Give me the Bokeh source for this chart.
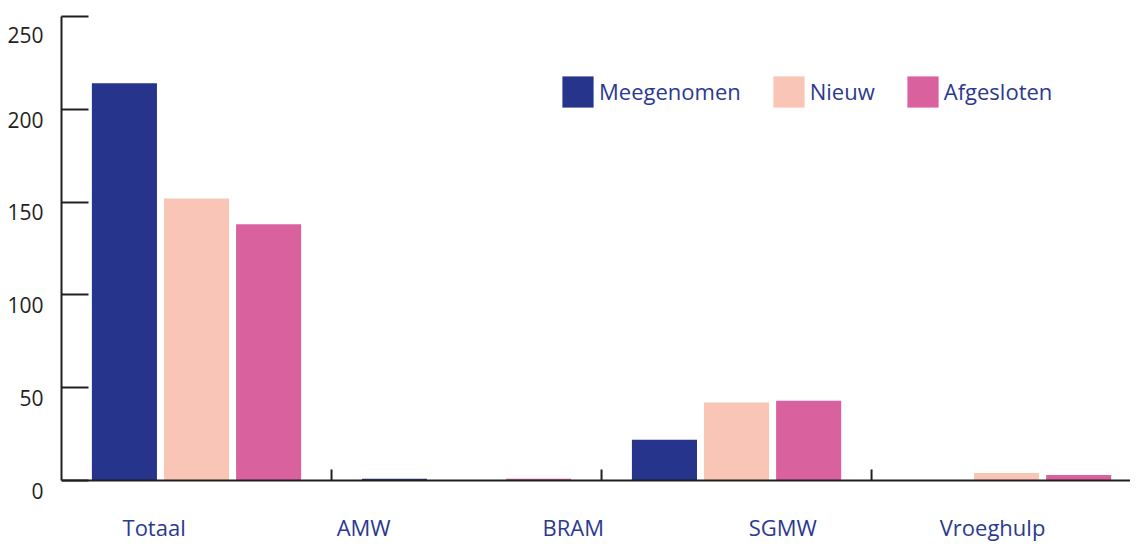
from bokeh.plotting import figure
from bokeh.models import Range1d, FixedTicker, Legend, LegendItem, ColumnDataSource, Span
from bokeh.core.properties import value
from bokeh.embed import file_html
from bokeh.resources import INLINE

# ---- data -------------------------------------------------------------
categories = ["Totaal", "AMW", "BRAM", "SGMW", "Vroeghulp"]   # axis labels
bar_groups = ["Totaal", "AMW", "SGMW", "Vroeghulp"]           # groups that carry bars
meegenomen = [214, 1, 22, 0]
nieuw = [152, 0, 42, 4]
afgesloten = [138, 1, 43, 3]
series_names = ["Meegenomen", "Nieuw", "Afgesloten"]
y_ticks = [0, 50, 100, 150, 200, 250]

# ---- style ------------------------------------------------------------
colors = ["#26358B", "#F8C5B7", "#D9629E"]
text_blue = "#2B3990"
axis_col = "#231F20"
font = "Open Sans"

W, H = 1130, 541
TOP, LEFT, BASE = 16, 61, 480           # frame top, frame left, pixel row of y = 0
px_per_unit = (BASE - TOP) / y_ticks[-1]
y_start = -(H - BASE) / px_per_unit     # frame reaches the bottom so labels sit inside it

p = figure(width=W, height=H, output_backend="svg", toolbar_location=None,
           x_range=Range1d(0, 3.959), y_range=Range1d(y_start, y_ticks[-1]),
           x_axis_location=None,
           min_border_left=LEFT, min_border_right=0, min_border_top=TOP,
           min_border_bottom=0)
p.outline_line_color = None
p.grid.grid_line_color = None
p.background_fill_color = "white"
p.border_fill_color = "white"

series = [meegenomen, nieuw, afgesloten]
offsets = [-0.267, 0.0, 0.267]
bar_w = 0.241
renderers = []
for name, vals, col, off in zip(series_names, series, colors, offsets):
    src = ColumnDataSource(dict(x=[i + 0.5 + off for i in range(len(bar_groups))],
                                top=vals, grp=bar_groups))
    r = p.vbar(x="x", top="top", bottom=0, width=bar_w, source=src,
               fill_color=col, line_color=None)
    renderers.append(r)

# category axis drawn by hand: base line, boundary ticks, labels
p.add_layout(Span(location=0, dimension="width", line_color=axis_col, line_width=2))
bounds = list(range(1, len(bar_groups)))
p.segment(x0=bounds, x1=bounds, y0=[0] * len(bounds), y1=[11 / px_per_unit] * len(bounds),
          line_color=axis_col, line_width=2)
label_pos = [0.343, 1.119, 1.895, 2.671, 3.448]
p.text(x=label_pos, y=[0] * len(categories), text=categories, y_offset=46,
       text_align="center", text_baseline="middle",
       text_font=value(font), text_font_size="22px", text_color=text_blue)

# y axis: labels set a little below their ticks (empty first line)
p.yaxis.ticker = FixedTicker(ticks=y_ticks)
p.yaxis.bounds = (0, y_ticks[-1])
p.yaxis.major_label_overrides = {v: "\n" + str(v) for v in y_ticks}
p.yaxis.major_label_text_line_height = 0.73
p.yaxis.minor_tick_line_color = None
p.yaxis.major_tick_in = 27
p.yaxis.major_tick_out = 0
p.yaxis.major_tick_line_width = 2
p.yaxis.major_tick_line_color = axis_col
p.yaxis.axis_line_width = 2
p.yaxis.axis_line_color = axis_col
p.yaxis.major_label_text_font = font
p.yaxis.major_label_text_font_size = "21px"
p.yaxis.major_label_text_color = axis_col
p.yaxis.major_label_standoff = 18

legend = Legend(items=[LegendItem(label=n, renderers=[r]) for n, r in zip(series_names, renderers)],
                orientation="horizontal", location=(497, 424),
                glyph_width=39, glyph_height=39, label_height=52,
                label_standoff=2, spacing=28,
                padding=0, margin=0, border_line_color=None, background_fill_alpha=0,
                label_text_font=font, label_text_font_size="22px",
                label_text_color=text_blue)
p.add_layout(legend, "center")

open("out.html", "w").write(file_html(p, INLINE))
